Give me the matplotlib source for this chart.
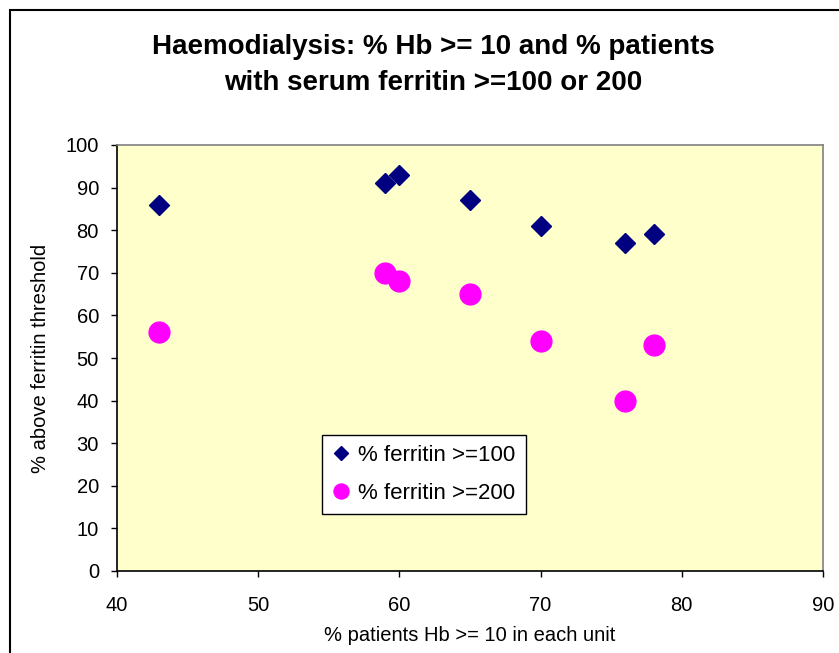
import matplotlib
matplotlib.use("Agg")
import matplotlib.pyplot as plt
from matplotlib.patches import Rectangle

plt.rcParams['font.family'] = ['Liberation Sans', 'DejaVu Sans']

# % patients with Hb >= 10 in each unit
hb_pct = [43, 59, 60, 65, 70, 76, 78]
# % patients above each ferritin threshold
ferritin_100 = [86, 91, 93, 87, 81, 77, 79]
ferritin_200 = [56, 70, 68, 65, 54, 40, 53]

x_ticks = [40, 50, 60, 70, 80, 90]
y_ticks = [0, 10, 20, 30, 40, 50, 60, 70, 80, 90, 100]

fig = plt.figure(figsize=(8.39, 6.53), dpi=100)

# outer chart frame, running off the right and bottom edges
fig.add_artist(Rectangle((10 / 839, -0.2), 1.2, 1.2 - 10 / 653,
                         transform=fig.transFigure, fill=False,
                         edgecolor='black', linewidth=1.5))

ax = fig.add_axes([117 / 839, 1 - 571 / 653, (823 - 117) / 839, (571 - 145) / 653])
ax.set_facecolor('#FFFFCC')

ax.plot(hb_pct, ferritin_100, linestyle='none', marker='D', markersize=9.7,
        color='#000080', label='% ferritin >=100')
ax.plot(hb_pct, ferritin_200, linestyle='none', marker='o', markersize=15,
        color='#FF00FF', label='% ferritin >=200')

ax.set_xlim(40, 90)
ax.set_ylim(0, 100)
ax.set_xticks(x_ticks)
ax.set_yticks(y_ticks)
ax.tick_params(direction='out', length=4, width=1, labelsize=14.5)
ax.tick_params(axis='x', pad=14)
ax.tick_params(axis='y', pad=9)

for side in ['left', 'bottom']:
    ax.spines[side].set_color('black')
    ax.spines[side].set_linewidth(1.2)
for side in ['top', 'right']:
    ax.spines[side].set_color('#808080')
    ax.spines[side].set_linewidth(1.2)

ax.set_xlabel('% patients Hb >= 10 in each unit', fontsize=14.5, labelpad=8)
ax.set_ylabel('% above ferritin threshold', fontsize=14.5, labelpad=11)

fig.text(0.516, 1 - 65 / 653,
         'Haemodialysis: % Hb >= 10 and % patients\nwith serum ferritin >=100 or 200',
         ha='center', va='center', fontsize=20, fontweight='bold',
         linespacing=1.5)

leg = ax.legend(loc='upper left', bbox_to_anchor=(0.290, 0.319), fontsize=16,
                frameon=True, fancybox=False, framealpha=1, edgecolor='black',
                markerscale=0.72, handlelength=0.8, handletextpad=0.4,
                borderpad=0.45, labelspacing=0.75, borderaxespad=0)
leg.get_frame().set_linewidth(1.0)

fig.savefig('out.png', dpi=100)
